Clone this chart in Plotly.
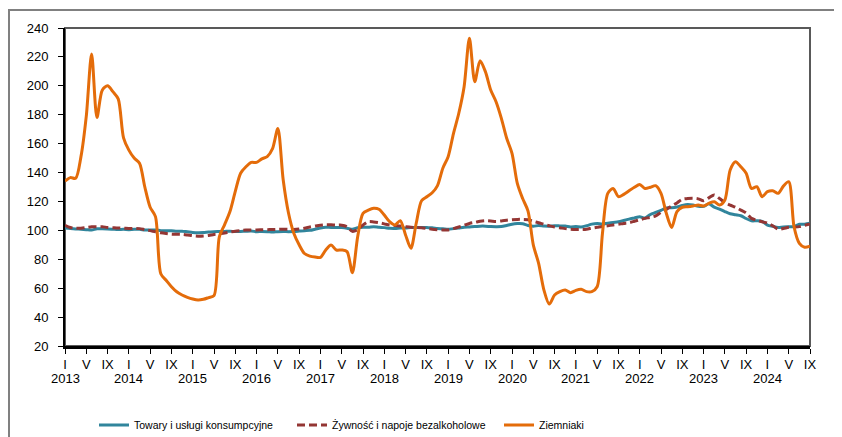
import plotly.graph_objects as go

years = list(range(2013, 2025))
month_labels = ["I", "V", "IX"]

towary = [
    101.7, 101.3, 101.0, 100.8, 100.5, 100.2, 101.1, 101.1, 101.0, 100.8, 100.6, 100.7,
    100.5, 100.7, 100.7, 100.3, 100.2, 100.3, 99.8, 99.7, 99.7, 99.4, 99.4, 99.0,
    98.6, 98.4, 98.5, 98.9, 99.1, 99.2, 99.3, 99.4, 99.2, 99.3, 99.4, 99.5,
    99.1, 99.2, 99.1, 98.9, 99.1, 99.2, 99.1, 99.2, 99.5, 99.8, 100.0, 100.8,
    101.7, 102.2, 102.0, 102.0, 101.9, 101.5, 100.8, 101.8, 102.2, 102.1, 102.5, 102.1,
    101.9, 101.4, 101.3, 101.6, 101.7, 102.0, 102.0, 102.0, 101.9, 101.8, 101.3, 101.1,
    100.7, 101.2, 101.7, 102.2, 102.4, 102.6, 102.9, 102.9, 102.6, 102.5, 102.6, 103.4,
    104.3, 104.7, 104.6, 103.4, 102.9, 103.3, 103.0, 102.9, 103.2, 103.1, 103.0, 102.4,
    102.6, 102.4, 103.2, 104.3, 104.7, 104.4, 105.0, 105.5, 105.9, 106.8, 107.8, 108.6,
    109.4, 108.5, 111.0, 112.4, 113.9, 115.5, 115.6, 116.1, 117.2, 117.9, 117.5, 116.6,
    116.6, 118.4, 116.1, 114.7, 113.0, 111.5, 110.8, 110.1, 108.2, 106.6, 106.6, 106.2,
    103.7, 102.8, 102.0, 102.4, 102.5, 102.6, 104.2, 104.3, 104.9,
]

zywnosc = [
    103.5, 102.0, 101.5, 101.5, 102.0, 102.5, 102.5, 102.5, 102.0, 101.8, 101.6, 101.5,
    101.3, 101.4, 101.2, 100.5, 99.8, 99.0, 98.3, 97.8, 97.4, 97.3, 97.2, 96.8,
    96.3, 96.0, 96.1, 96.5, 97.2, 97.6, 98.2, 98.8, 99.4, 99.8, 100.2, 100.3,
    100.3, 100.4, 100.5, 100.6, 100.7, 100.8, 100.7, 100.6, 100.9, 101.5, 102.3, 103.0,
    103.6, 103.9, 103.8, 103.6, 103.6, 102.5, 99.3, 100.5, 103.7, 106.0, 105.8, 105.3,
    104.5, 103.7, 103.3, 103.0, 102.5, 102.1, 102.0, 101.8, 101.3, 100.8, 100.5, 100.3,
    100.3, 101.2, 102.3, 103.5, 104.8, 105.5, 106.3, 106.7, 106.5, 106.2, 106.5, 107.0,
    107.4, 107.6, 107.6, 107.4, 106.3, 105.3, 104.2, 103.2, 102.3, 101.8, 101.2, 100.8,
    100.6, 100.6, 100.8, 101.5, 102.1, 102.7, 103.2, 103.7, 104.2, 104.8, 105.3, 106.3,
    107.3, 108.3, 109.0, 110.0, 112.5, 114.5, 116.9, 119.0, 121.5, 122.0, 122.2, 121.8,
    120.5, 122.5, 124.5, 122.0, 119.3, 117.5, 116.0, 114.0, 112.0, 108.3, 107.0, 106.0,
    105.0, 103.2, 100.8, 101.3, 102.1, 102.3, 102.6, 103.5, 104.4,
]

ziemniaki = [
    134.0, 136.5, 136.0, 151.0, 179.0, 222.0, 178.0, 197.0, 200.0, 196.0, 191.0, 164.0,
    155.5, 150.0, 146.5, 130.0, 116.0, 109.5, 70.0, 65.5, 61.0, 57.5, 55.3, 53.7,
    52.5, 51.8, 52.3, 53.5, 54.8, 95.5, 104.0, 113.0, 127.0, 139.5, 144.0, 147.0,
    147.0, 149.5, 151.0, 156.5, 170.5, 135.0, 112.0, 98.0, 90.0, 84.0, 82.2, 81.5,
    81.3, 86.4, 89.8, 86.4, 86.4, 85.3, 70.7, 95.6, 111.8, 114.0, 115.3, 114.6,
    110.6, 106.0, 103.7, 106.7, 96.8, 87.6, 104.9, 120.5, 123.3, 126.0, 131.0, 143.0,
    151.0, 167.0, 181.0, 199.4, 232.9, 202.9, 217.4, 209.8, 197.1, 189.0, 177.5, 163.7,
    153.3, 132.5, 122.0, 113.5, 90.0, 77.2, 58.7, 49.0, 55.3, 57.6, 58.7, 56.9,
    58.5, 59.2, 57.6, 57.6, 61.0, 97.9, 125.6, 129.0, 123.3, 124.9, 127.4, 129.8,
    131.8, 129.0, 129.8, 130.9, 125.6, 111.8, 102.0, 113.0, 116.0, 116.4, 116.9, 117.5,
    116.9, 118.7, 119.8, 117.5, 121.0, 141.8, 147.5, 144.0, 139.5, 129.0, 130.2, 123.3,
    126.8, 127.4, 125.6, 130.6, 133.7, 102.5, 91.0, 88.3, 89.0,
]

series_names = [
    "Towary i usługi konsumpcyjne",
    "Żywność i napoje bezalkoholowe",
    "Ziemniaki",
]

months = list(range(len(ziemniaki)))
tickvals = list(range(0, len(ziemniaki), 4))
ticktext = [month_labels[i % 3] for i in range(len(tickvals))]

# figure geometry (page body adds an 8px offset)
W, H = 834, 429
PL, PR, PT, PB = 57, 802, 20, 338

def px_x(p):
    return (p - PL) / float(PR - PL)

def px_y(p):
    return (PB - p) / float(PB - PT)

fig = go.Figure()
fig.add_trace(go.Scatter(
    x=months, y=towary, name=series_names[0], mode="lines",
    line=dict(color="#31859C", width=3, shape="spline", smoothing=0.8),
    legend="legend",
))
fig.add_trace(go.Scatter(
    x=months, y=zywnosc, name=series_names[1], mode="lines",
    line=dict(color="#943634", width=3, shape="spline", smoothing=0.8, dash="8px,4px"),
    legend="legend2",
))
fig.add_trace(go.Scatter(
    x=months, y=ziemniaki, name=series_names[2], mode="lines",
    line=dict(color="#E46C0A", width=3, shape="spline", smoothing=0.8),
    legend="legend3",
))

tick_font = dict(family="Liberation Sans, Arial, sans-serif", size=13, color="black")
leg_font = dict(family="Liberation Sans, Arial, sans-serif", size=10.5, color="black")

annotations = []
for i, yr in enumerate(years):
    annotations.append(dict(
        x=i * 12, y=-32.0 / (PB - PT), xref="x", yref="paper", text=str(yr),
        showarrow=False, xanchor="center", yanchor="middle", font=tick_font,
    ))

leg_y = (H - 417) / float(H)
leg_common = dict(orientation="h", xanchor="left", yanchor="middle",
                  xref="container", yref="container",
                  bgcolor="rgba(0,0,0,0)", font=leg_font, y=leg_y)

fig.update_layout(
    width=W, height=H,
    margin=dict(l=PL, r=W - PR, t=PT, b=H - PB, autoexpand=False),
    paper_bgcolor="white", plot_bgcolor="white",
    font=tick_font,
    showlegend=True,
    legend=dict(x=86.0 / W, **leg_common),
    legend2=dict(x=284.0 / W, **leg_common),
    legend3=dict(x=491.0 / W, **leg_common),
    annotations=annotations,
    shapes=[
        dict(type="rect", xref="paper", yref="paper", x0=0, x1=1, y0=0, y1=1,
             line=dict(color="#595959", width=2), layer="below"),
        dict(type="rect", xref="paper", yref="paper", x0=px_x(1), x1=1.2,
             y0=-0.5, y1=px_y(2), line=dict(color="#808080", width=2), layer="below"),
    ],
)

fig.update_xaxes(
    range=[0, len(ziemniaki) - 1], tickmode="array", tickvals=tickvals, ticktext=ticktext,
    ticks="outside", ticklen=5, tickwidth=1, tickcolor="black",
    showline=True, linecolor="black", linewidth=2.5, showgrid=False, zeroline=False,
    tickfont=tick_font, automargin=False,
)
fig.update_yaxes(
    range=[20, 240], dtick=20, tick0=20,
    ticks="outside", ticklen=5, tickwidth=1, tickcolor="black",
    showline=True, linecolor="black", linewidth=2, showgrid=False, zeroline=False,
    tickfont=tick_font, ticklabelstandoff=7, automargin=False,
)

fig.write_html("out.html")
